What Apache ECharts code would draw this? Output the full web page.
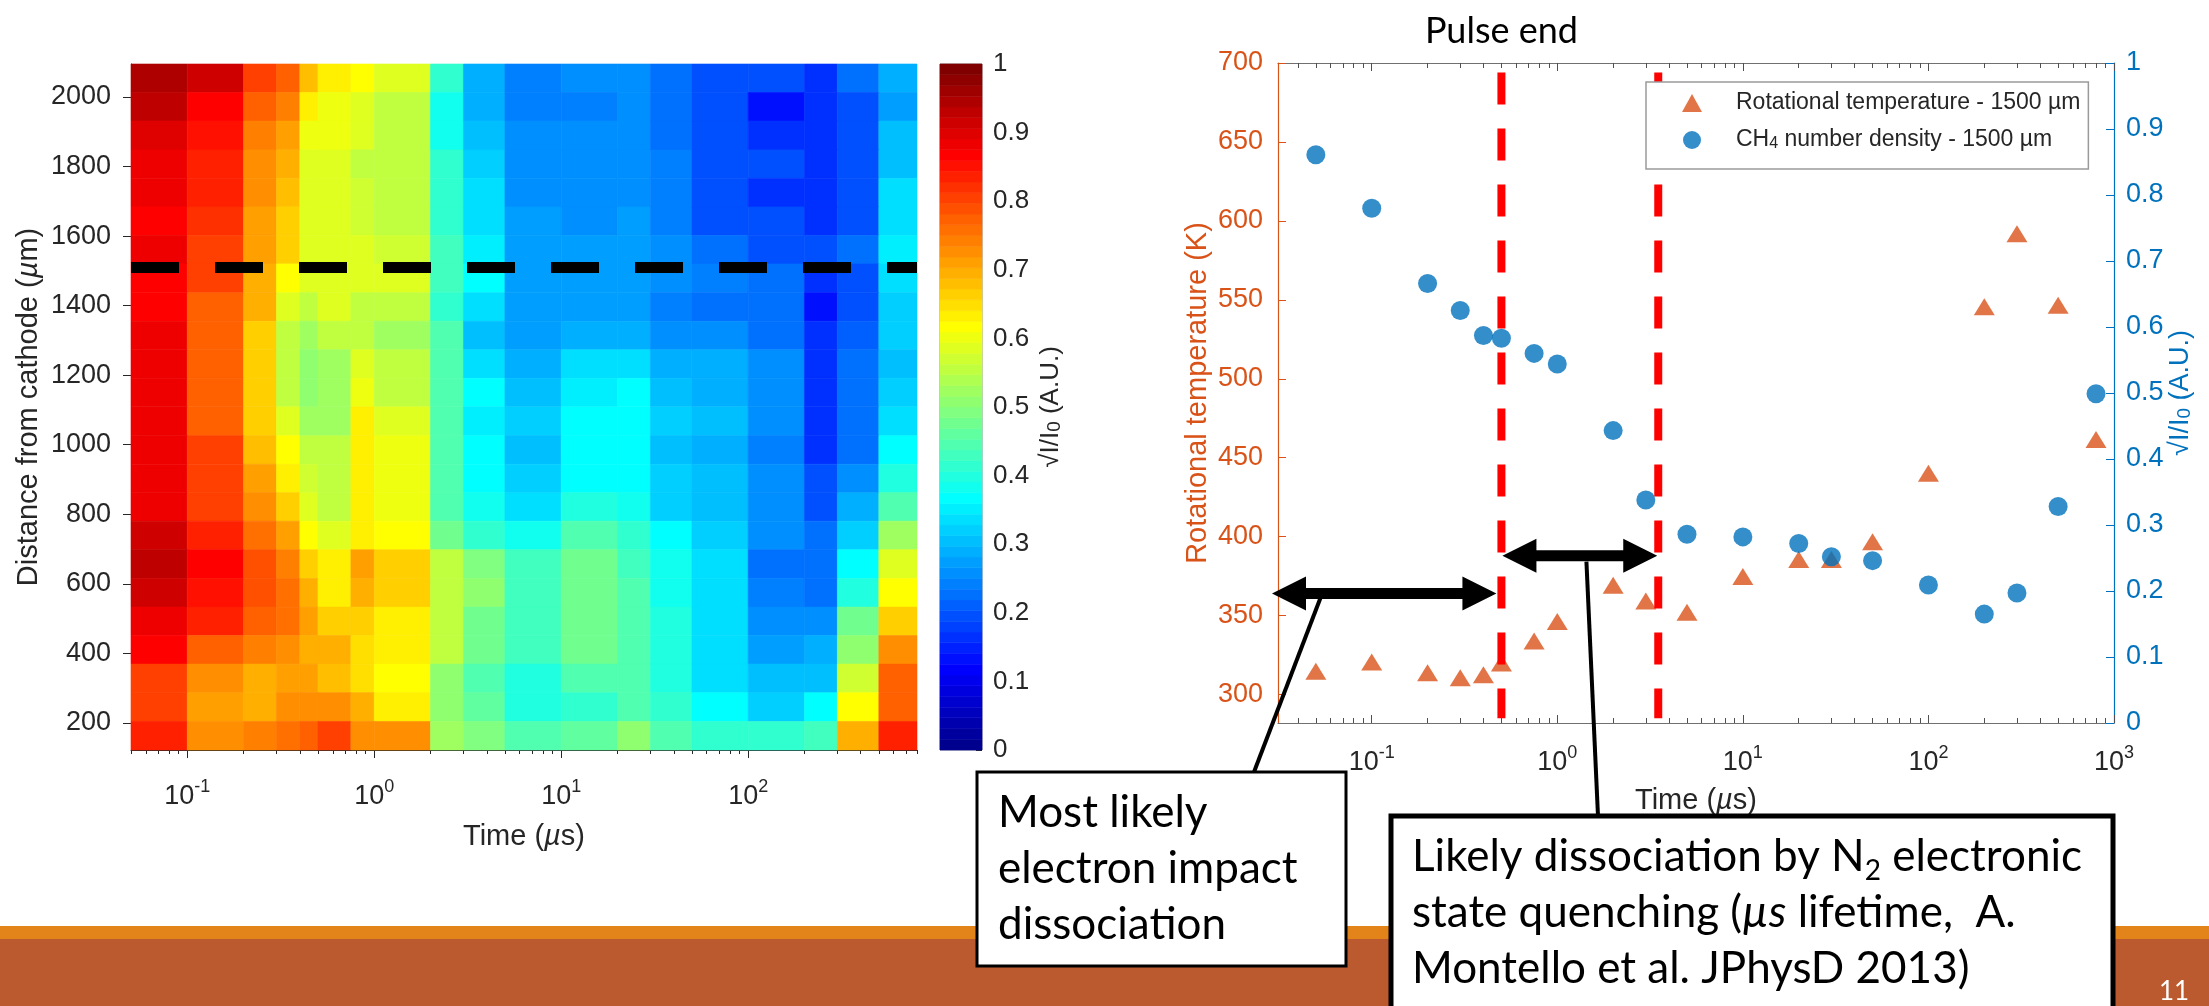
<!DOCTYPE html>
<html>
<head>
<meta charset="utf-8">
<script src="https://cdn.jsdelivr.net/npm/echarts@6/dist/echarts.min.js"></script>
<style>
html, body { margin: 0; padding: 0; background: #fff; }
#chart { width: 2209px; height: 1006px; }
</style>
</head>
<body>
<div id="chart"></div>
<script>
// sample times (µs), shared by both panels
const times = [0.05, 0.1, 0.2, 0.3, 0.4, 0.5, 0.75, 1, 2, 3, 5, 10, 20, 30, 50, 100, 200, 300, 500, 800];

// distance bands of the heatmap (µm), top to bottom
const distEdges = [2095, 2013, 1931, 1848, 1766, 1684, 1602, 1520, 1437, 1355, 1273, 1191, 1109, 1026, 944, 862, 780, 698, 615, 533, 451, 369, 287, 204, 122];

// sqrt(I/I0), one row per distance band, one value per time interval
const intensityRows = [
    [0.95, 0.92, 0.81, 0.77, 0.68, 0.63, 0.61, 0.59, 0.41, 0.29, 0.24, 0.25, 0.26, 0.22, 0.20, 0.19, 0.17, 0.22, 0.29],
    [0.93, 0.87, 0.77, 0.74, 0.625, 0.60, 0.59, 0.56, 0.39, 0.29, 0.24, 0.24, 0.25, 0.22, 0.19, 0.14, 0.17, 0.20, 0.27],
    [0.90, 0.85, 0.74, 0.71, 0.60, 0.60, 0.59, 0.56, 0.39, 0.30, 0.25, 0.26, 0.26, 0.22, 0.19, 0.17, 0.16, 0.19, 0.30],
    [0.875, 0.84, 0.73, 0.69, 0.59, 0.58, 0.56, 0.56, 0.42, 0.32, 0.26, 0.26, 0.26, 0.24, 0.20, 0.19, 0.17, 0.19, 0.30],
    [0.875, 0.84, 0.72, 0.68, 0.59, 0.58, 0.57, 0.56, 0.42, 0.33, 0.26, 0.25, 0.26, 0.24, 0.20, 0.17, 0.16, 0.20, 0.34],
    [0.87, 0.82, 0.71, 0.66, 0.59, 0.58, 0.57, 0.56, 0.42, 0.33, 0.27, 0.26, 0.27, 0.24, 0.20, 0.19, 0.17, 0.20, 0.34],
    [0.875, 0.81, 0.71, 0.66, 0.59, 0.59, 0.58, 0.57, 0.43, 0.35, 0.28, 0.27, 0.27, 0.25, 0.22, 0.20, 0.19, 0.22, 0.35],
    [0.87, 0.80, 0.70, 0.62, 0.59, 0.58, 0.58, 0.58, 0.43, 0.36, 0.28, 0.28, 0.28, 0.25, 0.24, 0.22, 0.17, 0.20, 0.34],
    [0.87, 0.78, 0.69, 0.58, 0.56, 0.58, 0.56, 0.56, 0.42, 0.34, 0.27, 0.27, 0.27, 0.24, 0.23, 0.22, 0.14, 0.19, 0.32],
    [0.875, 0.78, 0.66, 0.56, 0.53, 0.55, 0.55, 0.53, 0.44, 0.31, 0.27, 0.29, 0.29, 0.26, 0.25, 0.23, 0.16, 0.21, 0.32],
    [0.875, 0.78, 0.66, 0.56, 0.51, 0.52, 0.58, 0.56, 0.44, 0.34, 0.29, 0.34, 0.34, 0.29, 0.29, 0.26, 0.17, 0.22, 0.31],
    [0.875, 0.78, 0.66, 0.55, 0.51, 0.52, 0.60, 0.56, 0.44, 0.36, 0.30, 0.35, 0.37, 0.30, 0.29, 0.26, 0.17, 0.22, 0.32],
    [0.89, 0.78, 0.66, 0.58, 0.53, 0.52, 0.625, 0.59, 0.44, 0.35, 0.32, 0.37, 0.37, 0.32, 0.30, 0.26, 0.17, 0.23, 0.34],
    [0.89, 0.80, 0.68, 0.61, 0.56, 0.55, 0.625, 0.60, 0.45, 0.36, 0.30, 0.37, 0.37, 0.31, 0.29, 0.24, 0.17, 0.23, 0.36],
    [0.875, 0.80, 0.71, 0.625, 0.57, 0.55, 0.625, 0.60, 0.45, 0.36, 0.32, 0.37, 0.37, 0.32, 0.30, 0.26, 0.19, 0.25, 0.40],
    [0.88, 0.81, 0.73, 0.67, 0.58, 0.56, 0.625, 0.60, 0.45, 0.375, 0.34, 0.40, 0.38, 0.32, 0.30, 0.25, 0.19, 0.29, 0.45],
    [0.92, 0.84, 0.75, 0.71, 0.61, 0.58, 0.625, 0.61, 0.48, 0.41, 0.38, 0.45, 0.42, 0.36, 0.32, 0.25, 0.22, 0.32, 0.53],
    [0.93, 0.87, 0.79, 0.74, 0.67, 0.625, 0.71, 0.67, 0.55, 0.49, 0.43, 0.48, 0.43, 0.375, 0.34, 0.23, 0.22, 0.36, 0.58],
    [0.91, 0.85, 0.79, 0.75, 0.69, 0.64, 0.69, 0.67, 0.56, 0.50, 0.43, 0.48, 0.45, 0.375, 0.34, 0.24, 0.23, 0.40, 0.61],
    [0.88, 0.83, 0.77, 0.75, 0.71, 0.66, 0.67, 0.64, 0.56, 0.48, 0.43, 0.47, 0.45, 0.40, 0.34, 0.25, 0.25, 0.47, 0.67],
    [0.86, 0.77, 0.74, 0.73, 0.69, 0.69, 0.65, 0.64, 0.55, 0.47, 0.43, 0.47, 0.45, 0.40, 0.34, 0.28, 0.29, 0.50, 0.72],
    [0.81, 0.73, 0.69, 0.71, 0.71, 0.68, 0.65, 0.61, 0.50, 0.45, 0.40, 0.45, 0.45, 0.40, 0.34, 0.30, 0.30, 0.57, 0.77],
    [0.80, 0.71, 0.70, 0.72, 0.73, 0.72, 0.69, 0.63, 0.50, 0.46, 0.40, 0.42, 0.45, 0.42, 0.37, 0.32, 0.36, 0.62, 0.78],
    [0.83, 0.73, 0.74, 0.76, 0.78, 0.80, 0.73, 0.72, 0.53, 0.49, 0.45, 0.46, 0.50, 0.45, 0.41, 0.42, 0.43, 0.70, 0.84]
];

// right panel, values at 1500 µm
const rotTemp = [314.7, 320.6, 313.9, 310.7, 312.6, 320.0, 334.0, 346.3, 369.2, 359.3, 352.1, 374.8, 385.5, 385.5, 396.8, 440.2, 545.7, 591.9, 546.5, 461.6];
const ch4Density = [0.861, 0.780, 0.666, 0.625, 0.587, 0.583, 0.560, 0.544, 0.443, 0.338, 0.286, 0.282, 0.272, 0.252, 0.246, 0.209, 0.165, 0.197, 0.328, 0.499];

const profileDistance = 1510;
const pulseLines = [0.5, 3.5];
const arrowTemps = [364, 388];

// tick labels
const timeTicksLeft = [0.1, 1, 10, 100];
const timeTicksRight = [0.1, 1, 10, 100, 1000];
const distTicks = [200, 400, 600, 800, 1000, 1200, 1400, 1600, 1800, 2000];
const tempTicks = [300, 350, 400, 450, 500, 550, 600, 650, 700];

const seriesNames = ['Rotational temperature - 1500 µm', 'CH4 number density - 1500 µm'];

const TEMP_MIN = 282;
const TEMP_MAX = 700;
const T_MIN_RIGHT = 0.03126;
const T_MAX_RIGHT = 1000;

const AXIS_GRAY = '#262626';
const ORANGE = '#D95319';
const BLUE = '#0072BD';
const FONT = 'Liberation Sans';
const SLIDE_FONT = 'Lato';

// MATLAB jet(64)
function jetU(k) {
    if (k < 1 || k > 47) return 0;
    if (k <= 16) return k / 16;
    if (k <= 31) return 1;
    return (48 - k) / 16;
}
function jetColor(v) {
    const i = Math.min(64, Math.max(1, Math.floor(v * 64) + 1));
    const r = Math.round(jetU(i - 24) * 255);
    const g = Math.round(jetU(i - 8) * 255);
    const b = Math.round(jetU(i + 8) * 255);
    return 'rgb(' + r + ',' + g + ',' + b + ')';
}

function minorTicks(lo, hi) {
    const out = [];
    for (let e = -3; e <= 3; e++) {
        for (let m = 2; m <= 9; m++) {
            const v = +(m * Math.pow(10, e)).toPrecision(6);
            if (v >= lo && v <= hi) out.push(v);
        }
    }
    return out;
}

function powLabel(value) {
    return '{b|10}{s|' + Math.round(Math.log10(value)) + '}';
}
const powRich = {
    b: { fontSize: 27, color: AXIS_GRAY, fontFamily: FONT, lineHeight: 38 },
    s: { fontSize: 18, color: AXIS_GRAY, fontFamily: FONT, lineHeight: 17, verticalAlign: 'top' }
};

function renderCell(params, api) {
    const a = api.coord([api.value(0), api.value(2)]);
    const b = api.coord([api.value(1), api.value(3)]);
    const color = jetColor(api.value(4));
    return {
        type: 'rect',
        shape: {
            x: Math.min(a[0], b[0]),
            y: Math.min(a[1], b[1]),
            width: Math.abs(b[0] - a[0]),
            height: Math.abs(b[1] - a[1])
        },
        style: { fill: color, stroke: color, lineWidth: 0.6 }
    };
}

// heatmap cells: [t0, t1, d0, d1, value]
const heatData = [];
intensityRows.forEach((row, i) => {
    row.forEach((v, j) => {
        heatData.push([times[j], times[j + 1], distEdges[i + 1], distEdges[i], v]);
    });
});

// colorbar levels
const barData = [];
for (let i = 0; i < 64; i++) {
    barData.push([0, 1, i / 64, (i + 1) / 64, (i + 0.5) / 64]);
}

const nameStyle = {
    fontSize: 29,
    color: AXIS_GRAY,
    fontFamily: FONT,
    rich: {
        it: { fontStyle: 'italic', fontSize: 29, color: AXIS_GRAY, fontFamily: FONT },
        sub: { fontSize: 19, color: AXIS_GRAY, fontFamily: FONT, lineHeight: 10, verticalAlign: 'bottom' }
    }
};

// minor log ticks as separate hidden axes
function minorAxis(gridIndex, position, lo, hi, inside, len, color) {
    return {
        type: 'log', logBase: 10, gridIndex: gridIndex, position: position,
        min: lo, max: hi,
        axisLine: { show: false, onZero: false },
        axisTick: { show: true, inside: inside, length: len, customValues: minorTicks(lo, hi), lineStyle: { color: color } },
        axisLabel: { show: false },
        splitLine: { show: false }
    };
}

const chart = echarts.init(document.getElementById('chart'));

const option = {
    animation: false,
    backgroundColor: '#fff',
    textStyle: { fontFamily: FONT },
    grid: [
        { left: 131, top: 64, width: 786, height: 686 },
        { left: 940, top: 64, width: 42, height: 686, show: true, borderColor: '#8c8c8c', borderWidth: 1, backgroundColor: 'transparent' },
        { left: 1278, top: 63, width: 836, height: 660 }
    ],
    legend: {
        left: 1646,
        top: 82,
        orient: 'vertical',
        backgroundColor: '#fff',
        borderColor: '#9a9a9a',
        borderWidth: 1.5,
        padding: [9, 8, 17, 36],
        itemWidth: 20,
        itemHeight: 18,
        itemGap: 13,
        data: [
            { name: seriesNames[0], icon: 'triangle' },
            { name: seriesNames[1], icon: 'circle' }
        ],
        formatter: function (name) {
            return name.replace('CH4', 'CH{sub|4}');
        },
        textStyle: {
            fontFamily: FONT,
            fontSize: 23,
            color: AXIS_GRAY,
            lineHeight: 24,
            padding: [0, 0, 0, 29],
            rich: {
                sub: { fontFamily: FONT, fontSize: 16, color: AXIS_GRAY, lineHeight: 8, verticalAlign: 'bottom' }
            }
        }
    },
    xAxis: [
        {
            type: 'log', logBase: 10, gridIndex: 0, position: 'bottom',
            min: times[0], max: times[times.length - 1],
            axisLine: { show: true, onZero: false, lineStyle: { color: AXIS_GRAY, width: 1 } },
            axisTick: { show: true, inside: false, length: 8, customValues: timeTicksLeft, lineStyle: { color: AXIS_GRAY } },
            axisLabel: { customValues: timeTicksLeft, margin: 28, formatter: powLabel, rich: powRich },
            splitLine: { show: false },
            name: 'Time ({it|µ}s)', nameLocation: 'middle', nameGap: 72, nameTextStyle: nameStyle
        },
        minorAxis(0, 'bottom', times[0], times[times.length - 1], false, 4, AXIS_GRAY),
        { type: 'value', gridIndex: 1, min: 0, max: 1, show: false },
        {
            type: 'log', logBase: 10, gridIndex: 2, position: 'bottom',
            min: T_MIN_RIGHT, max: T_MAX_RIGHT,
            axisLine: { show: true, onZero: false, lineStyle: { color: '#707070', width: 1.2 } },
            axisTick: { show: true, inside: true, length: 8, customValues: timeTicksRight, lineStyle: { color: '#505050' } },
            axisLabel: { customValues: timeTicksRight, margin: 21, formatter: powLabel, rich: powRich },
            splitLine: { show: false },
            name: 'Time ({it|µ}s)', nameLocation: 'middle', nameGap: 63, nameTextStyle: nameStyle
        },
        minorAxis(2, 'bottom', T_MIN_RIGHT, T_MAX_RIGHT, true, 5, '#505050'),
        {
            type: 'log', logBase: 10, gridIndex: 2, position: 'top',
            min: T_MIN_RIGHT, max: T_MAX_RIGHT,
            axisLine: { show: true, onZero: false, lineStyle: { color: '#707070', width: 1.2 } },
            axisTick: { show: true, inside: true, length: 8, customValues: timeTicksRight, lineStyle: { color: '#505050' } },
            axisLabel: { show: false },
            splitLine: { show: false }
        },
        minorAxis(2, 'top', T_MIN_RIGHT, T_MAX_RIGHT, true, 5, '#505050')
    ],
    yAxis: [
        {
            type: 'value', gridIndex: 0, min: distEdges[distEdges.length - 1], max: distEdges[0],
            axisLine: { show: true, onZero: false, lineStyle: { color: AXIS_GRAY } },
            axisTick: { show: true, inside: false, length: 8, customValues: distTicks, lineStyle: { color: AXIS_GRAY } },
            axisLabel: {
                customValues: distTicks, margin: 20, fontSize: 27, color: AXIS_GRAY,
                formatter: function (v) { return String(v); }
            },
            splitLine: { show: false },
            name: 'Distance from cathode ({it|µ}m)', nameLocation: 'middle', nameGap: 88, nameTextStyle: nameStyle
        },
        {
            type: 'value', gridIndex: 1, position: 'right', min: 0, max: 1, interval: 0.1,
            axisLine: { show: false, onZero: false },
            axisTick: { show: true, inside: true, length: 6, lineStyle: { color: AXIS_GRAY } },
            axisLabel: { margin: 11, fontSize: 26, color: AXIS_GRAY },
            splitLine: { show: false },
            name: '√I/I{sub|0} (A.U.)', nameLocation: 'middle', nameGap: 56,
            nameTextStyle: Object.assign({}, nameStyle, { fontSize: 26 })
        },
        {
            type: 'value', gridIndex: 2, position: 'left', min: TEMP_MIN, max: TEMP_MAX,
            axisLine: { show: true, onZero: false, lineStyle: { color: ORANGE, width: 1.2 } },
            axisTick: { show: true, inside: true, length: 8, customValues: tempTicks, lineStyle: { color: ORANGE } },
            axisLabel: { customValues: tempTicks, margin: 15, fontSize: 27, color: ORANGE },
            splitLine: { show: false },
            name: 'Rotational temperature (K)', nameLocation: 'middle', nameGap: 66,
            nameTextStyle: { fontSize: 29, color: ORANGE, fontFamily: FONT }
        },
        {
            type: 'value', gridIndex: 2, position: 'right', min: 0, max: 1, interval: 0.1,
            axisLine: { show: true, onZero: false, lineStyle: { color: BLUE, width: 1.2 } },
            axisTick: { show: true, inside: true, length: 8, lineStyle: { color: BLUE } },
            axisLabel: { margin: 12, fontSize: 27, color: BLUE },
            splitLine: { show: false },
            name: '√I/I{sub|0} (A.U.)', nameLocation: 'middle', nameGap: 48,
            nameTextStyle: {
                fontSize: 27, color: BLUE, fontFamily: FONT,
                rich: { sub: { fontSize: 19, color: BLUE, fontFamily: FONT, lineHeight: 10, verticalAlign: 'bottom' } }
            }
        }
    ],
    series: [
        {
            type: 'custom', name: 'intensity', xAxisIndex: 0, yAxisIndex: 0,
            renderItem: renderCell, data: heatData, encode: { x: [0, 1], y: [2, 3] },
            z: 1, silent: true
        },
        {
            type: 'line', name: 'profile', xAxisIndex: 0, yAxisIndex: 0,
            data: [[times[0], profileDistance], [times[times.length - 1], profileDistance]],
            symbol: 'none', silent: true, z: 3,
            lineStyle: { color: '#000', width: 11, type: [48, 36], cap: 'butt' }
        },
        {
            type: 'custom', name: 'colorbar', xAxisIndex: 2, yAxisIndex: 1,
            renderItem: renderCell, data: barData, encode: { x: [0, 1], y: [2, 3] },
            z: 1, silent: true
        },
        {
            type: 'scatter', name: seriesNames[0], xAxisIndex: 3, yAxisIndex: 2,
            data: times.map((t, i) => [t, rotTemp[i]]),
            symbol: 'triangle', symbolSize: [21, 17],
            itemStyle: { color: ORANGE }, z: 2
        },
        {
            type: 'line', name: 'pulse-a', xAxisIndex: 3, yAxisIndex: 2,
            data: [[pulseLines[0], TEMP_MAX - 6], [pulseLines[0], TEMP_MIN + 3]],
            symbol: 'none', silent: true, z: 3,
            lineStyle: { color: '#ff0000', width: 8, type: [32, 24], cap: 'butt' }
        },
        {
            type: 'line', name: 'pulse-b', xAxisIndex: 3, yAxisIndex: 2,
            data: [[pulseLines[1], TEMP_MAX - 6], [pulseLines[1], TEMP_MIN + 3]],
            symbol: 'none', silent: true, z: 3,
            lineStyle: { color: '#ff0000', width: 8, type: [32, 24], cap: 'butt' }
        },
        {
            type: 'scatter', name: seriesNames[1], xAxisIndex: 3, yAxisIndex: 3,
            data: times.map((t, i) => [t, ch4Density[i]]),
            symbol: 'circle', symbolSize: 19,
            itemStyle: { color: BLUE }, z: 4
        }
    ]
};

chart.setOption(option);

// annotations, anchored on the right panel scale
function toPx(t, temp) {
    return chart.convertToPixel({ seriesIndex: 3 }, [t, temp]);
}

function doubleArrow(x0, x1, y) {
    const L = 34, h = 17, s = 5.5;
    return {
        type: 'polygon', z: 20, silent: true,
        shape: {
            points: [
                [x0, y], [x0 + L, y - h], [x0 + L, y - s], [x1 - L, y - s], [x1 - L, y - h],
                [x1, y], [x1 - L, y + h], [x1 - L, y + s], [x0 + L, y + s], [x0 + L, y + h]
            ]
        },
        style: { fill: '#000' }
    };
}

const a1L = toPx(T_MIN_RIGHT, arrowTemps[0]);
const a1R = toPx(pulseLines[0], arrowTemps[0]);
const a2L = toPx(pulseLines[0], arrowTemps[1]);
const a2R = toPx(pulseLines[1], arrowTemps[1]);

const boxRich = {
    n: { fontFamily: SLIDE_FONT, fontSize: 44, lineHeight: 56, color: '#000' },
    it: { fontFamily: SLIDE_FONT, fontSize: 44, lineHeight: 56, color: '#000', fontStyle: 'italic' },
    sub: { fontFamily: SLIDE_FONT, fontSize: 28, lineHeight: 28, color: '#000', verticalAlign: 'bottom' }
};

chart.setOption({
    graphic: [
        {
            type: 'text', z: 20, silent: true,
            style: {
                x: a1R[0], y: 31, text: 'Pulse end', fill: '#000',
                font: '36px ' + SLIDE_FONT, align: 'center', verticalAlign: 'middle'
            }
        },
        doubleArrow(a1L[0] - 6, a1R[0] - 5, a1L[1]),
        doubleArrow(a2L[0] + 1, a2R[0] - 1, a2L[1]),
        {
            type: 'line', z: 20, silent: true,
            shape: { x1: a1L[0] + 43, y1: a1L[1] + 3, x2: 1254, y2: 772 },
            style: { stroke: '#000', lineWidth: 4 }
        },
        {
            type: 'line', z: 20, silent: true,
            shape: { x1: a2L[0] + 85, y1: a2L[1] + 6, x2: 1598, y2: 816 },
            style: { stroke: '#000', lineWidth: 4 }
        },
        {
            type: 'rect', z: 15, silent: true,
            shape: { x: 0, y: 926, width: 2209, height: 14 },
            style: { fill: '#E2841A' }
        },
        {
            type: 'rect', z: 15, silent: true,
            shape: { x: 0, y: 939, width: 2209, height: 67 },
            style: { fill: '#BB5A2E' }
        },
        {
            type: 'text', z: 16, silent: true,
            style: {
                x: 2174, y: 992, text: '11', fill: '#fff',
                font: '26px ' + SLIDE_FONT, align: 'center', verticalAlign: 'middle'
            }
        },
        {
            type: 'rect', z: 21, silent: true,
            shape: { x: 977, y: 772, width: 369, height: 194 },
            style: { fill: '#fff', stroke: '#000', lineWidth: 3 }
        },
        {
            type: 'text', z: 22, silent: true,
            style: {
                x: 998, y: 785,
                text: '{n|Most likely}\n{n|electron impact}\n{n|dissociation}',
                rich: boxRich, verticalAlign: 'top'
            }
        },
        {
            type: 'rect', z: 21, silent: true,
            shape: { x: 1391, y: 816, width: 722, height: 200 },
            style: { fill: '#fff', stroke: '#000', lineWidth: 5 }
        },
        {
            type: 'text', z: 22, silent: true,
            style: {
                x: 1412, y: 829,
                text: '{n|Likely dissociation by N}{sub|2}{n| electronic}\n{n|state quenching (}{it|µs}{n| lifetime,  A.}\n{n|Montello et al. JPhysD 2013)}',
                rich: boxRich, verticalAlign: 'top'
            }
        }
    ]
});
</script>
</body>
</html>
